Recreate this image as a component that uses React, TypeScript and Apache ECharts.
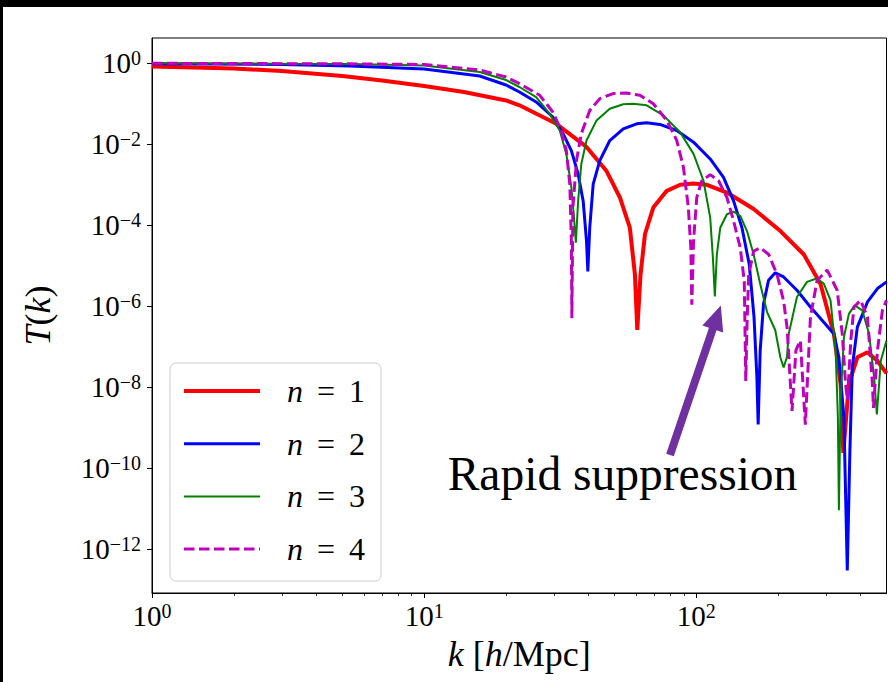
import React, { useEffect, useRef } from "react";
import * as echarts from "echarts";

// ---- data (k in h/Mpc, T(k)) ----
const seriesNames = ["n = 1", "n = 2", "n = 3", "n = 4"];
const seriesNumbers = ["1", "2", "3", "4"];

const kN1 = [1, 2, 3, 5, 7, 10, 14, 20, 22.4, 30.6, 39.5, 46.7, 52.4, 57.0, 59.5, 60.7, 62.4, 64.8, 69.5, 77.9, 87.3, 97.7, 109.4, 129.6, 162.5, 203.8, 248.5, 286.1, 320.4, 339, 346.9, 363.7, 390.7, 425.6, 463, 500];
const tN1 = [0.834, 0.744, 0.645, 0.486, 0.376, 0.275, 0.196, 0.121, 0.0918, 0.0321, 8.6e-3, 2.23e-3, 4.86e-4, 8.7e-5, 6.1e-6, 2.6e-7, 6.1e-6, 6.1e-5, 2.74e-4, 7.1e-4, 1.0e-3, 1.08e-3, 1.0e-3, 6.45e-4, 2.53e-4, 7.2e-5, 1.9e-5, 3.55e-6, 2.07e-7, 1.21e-8, 2.4e-10, 1.21e-8, 5.5e-8, 7.3e-8, 4.5e-8, 2.2e-8];

const kN2 = [1, 3, 5.34, 10, 16, 20, 22.4, 25.8, 29.7, 32.4, 34.75, 36.8, 38.4, 39.5, 39.95, 40.6, 41.8, 44.2, 48.1, 53.9, 60.4, 65.7, 73.5, 84.8, 97.7, 112.5, 125.9, 137.1, 147.2, 156.5, 163, 167, 168.8, 171.7, 176.7, 184.3, 195, 209.4, 234.4, 262.7, 294.2, 320.4, 334.2, 348.7, 358.8, 366.8, 374.3, 390.7, 425.6, 463.1, 500];
const tN2 = [0.972, 0.934, 0.858, 0.723, 0.486, 0.291, 0.196, 0.111, 0.0472, 0.0182, 7.0e-3, 1.85e-3, 4.0e-4, 4.1e-5, 7.3e-6, 8.7e-5, 1.04e-3, 3.96e-3, 0.0124, 0.0241, 0.0321, 0.034, 0.031, 0.0219, 0.0113, 4.34e-3, 1.52e-3, 4.0e-4, 8.7e-5, 1.1e-5, 5.4e-7, 1.74e-8, 1.2e-9, 8.0e-8, 1.16e-6, 4.4e-6, 6.7e-6, 5.3e-6, 2.48e-6, 9.6e-7, 4.05e-7, 2.07e-7, 5.5e-8, 1.77e-9, 3.0e-13, 2.6e-10, 3.1e-8, 3.05e-7, 1.28e-6, 2.74e-6, 4.0e-6];

const kN3 = [1, 5.34, 10, 16, 20, 22.4, 25.8, 28.9, 31.5, 33.3, 34.75, 35.45, 36.1, 36.8, 37.8, 39.5, 43.0, 48.1, 53.9, 58.6, 65.7, 75.7, 87.2, 97.7, 106.3, 112.5, 115.1, 117.0, 119.0, 122.5, 129.6, 137.1, 145.1, 153.6, 162.5, 172.0, 182.0, 195.0, 203.9, 209.4, 215.4, 218.6, 234.4, 255.3, 276.4, 294.2, 311.4, 325.1, 331.4, 334.2, 339.0, 348.7, 363.7, 381.9, 407.5, 431.4, 450.4, 460.8, 476.5, 500];
const tN3 = [1.0, 0.961, 0.882, 0.61, 0.387, 0.26, 0.147, 0.057, 0.0219, 5.8e-3, 8.6e-4, 1.87e-4, 3.7e-5, 4.0e-4, 3.26e-3, 0.0124, 0.0389, 0.0757, 0.0972, 0.1006, 0.0918, 0.0517, 0.0199, 5.8e-3, 1.26e-3, 1.55e-4, 1.58e-5, 1.76e-6, 1.9e-5, 8.7e-5, 1.87e-4, 2.18e-4, 1.7e-4, 7.2e-5, 1.9e-5, 3.4e-6, 7.2e-7, 2.6e-7, 5.3e-8, 3.1e-8, 5.6e-8, 2.08e-7, 1.7e-6, 4.0e-6, 4.86e-6, 3.63e-6, 1.4e-6, 8.0e-8, 1.77e-9, 9.2e-12, 4.6e-9, 1.72e-7, 6.5e-7, 1.05e-6, 7.9e-7, 2.08e-7, 1.74e-8, 2.13e-9, 4.5e-8, 1.42e-7];

const kN4 = [1, 5.34, 10, 16, 20, 22.4, 26.6, 29.7, 31.9, 33.3, 34.3, 34.75, 34.9, 35.2, 36.3, 37.8, 40.6, 44.2, 49.5, 55.4, 62.1, 69.5, 77.9, 84.8, 89.7, 93.5, 95.5, 96.3, 97.7, 100.4, 104.8, 112.5, 120.7, 129.6, 137.1, 145.1, 150.1, 152.0, 153.6, 155.8, 162.5, 172.0, 184.6, 198.0, 209.5, 215.7, 224.8, 232.4, 241.3, 251.6, 262.7, 278.0, 302.8, 329.5, 344.0, 353.7, 359.2, 369.8, 379.7, 401.7, 425.6, 443.9, 447.7, 463.1, 482.9, 500];
const tN4 = [1.0, 0.972, 0.934, 0.683, 0.459, 0.315, 0.162, 0.0627, 0.0219, 7.0e-3, 1.04e-3, 4.1e-5, 5.1e-7, 2.74e-4, 3.96e-3, 0.0182, 0.0687, 0.134, 0.179, 0.185, 0.162, 0.1006, 0.0389, 0.0124, 2.7e-3, 2.74e-4, 2.78e-5, 1.1e-6, 4.1e-5, 4.86e-4, 1.26e-3, 1.78e-3, 1.26e-3, 4.86e-4, 1.28e-4, 2.78e-5, 4.1e-6, 1.44e-8, 3.5e-7, 6.1e-6, 2.31e-5, 2.78e-5, 1.9e-5, 6.1e-6, 1.32e-6, 2.88e-7, 2.6e-9, 8.3e-8, 1.42e-7, 1.2e-9, 5.4e-7, 4.4e-6, 7.8e-6, 2.48e-6, 2.07e-7, 1.19e-8, 4.9e-9, 1.47e-7, 9.6e-7, 1.4e-6, 5.4e-7, 1.19e-8, 3.1e-9, 8.0e-8, 7.9e-7, 1.4e-6];

// axis ranges and ticks (decade exponents)
const kMin = 1;
const kMax = 500;
const tMin = 10 ** -13.08;
const tMax = 10 ** 0.625;
const xTickExponents = [0, 1, 2];
const yTickExponents = [-12, -10, -8, -6, -4, -2, 0];
const xMinorTicks = [2, 3, 4, 5, 6, 7, 8, 9, 20, 30, 40, 50, 60, 70, 80, 90, 200, 300, 400];

const annotationText = "Rapid suppression";

// ---- helpers ----
const L = Math.log10;
const toPoints = (k: number[], t: number[]) => k.map((kv, i) => [L(kv), L(t[i])]);
const supLabel = (v: number) => {
  const n = Math.round(v);
  return `{b|10}{e|${n < 0 ? "\u2212" + -n : n}}`;
};

const SERIF = "'Liberation Serif', 'DejaVu Serif', serif";

const tickRich = {
  b: { fontFamily: SERIF, fontSize: 29, lineHeight: 30, color: "#000" },
  e: { fontFamily: SERIF, fontSize: 20, lineHeight: 14, verticalAlign: "top", color: "#000" },
};

const titleRich = {
  i: { fontFamily: SERIF, fontStyle: "italic", fontSize: 36, lineHeight: 42, color: "#000" },
  r: { fontFamily: SERIF, fontSize: 36, lineHeight: 42, color: "#000" },
};

const colors = ["#ff0000", "#0000ff", "#008000", "#bf00bf"];
const widths = [4, 3, 2, 3];

// arrow geometry (annotation, pixel space)
const arrowTail = [670, 455];
const arrowTip = [720.8, 305.4];
function arrowPoints() {
  const dx = arrowTip[0] - arrowTail[0];
  const dy = arrowTip[1] - arrowTail[1];
  const len = Math.hypot(dx, dy);
  const ux = dx / len, uy = dy / len;
  const nx = -uy, ny = ux;
  const headLen = 25, headHalf = 11, shaftHalf = 4;
  const bx = arrowTip[0] - headLen * ux, by = arrowTip[1] - headLen * uy;
  return [
    [arrowTail[0] - shaftHalf * nx, arrowTail[1] - shaftHalf * ny],
    [bx - shaftHalf * nx, by - shaftHalf * ny],
    [bx - headHalf * nx, by - headHalf * ny],
    [arrowTip[0], arrowTip[1]],
    [bx + headHalf * nx, by + headHalf * ny],
    [bx + shaftHalf * nx, by + shaftHalf * ny],
    [arrowTail[0] + shaftHalf * nx, arrowTail[1] + shaftHalf * ny],
  ];
}

export default function App() {
  const ref = useRef<HTMLDivElement>(null);
  useEffect(() => {
    const el = ref.current;
    if (!el) return;
    const chart = echarts.init(el, undefined, { renderer: "svg" });
    const ks = [kN1, kN2, kN3, kN4];
    const ts = [tN1, tN2, tN3, tN4];
    const grid = { left: 152, top: 38, width: 734.5, height: 555 };
    const option: any = {
      animation: false,
      backgroundColor: "#ffffff",
      textStyle: { fontFamily: SERIF },
      grid: { ...grid, show: true, borderColor: "#000", borderWidth: 1, backgroundColor: "transparent" },
      xAxis: [
        {
          type: "value",
          min: L(kMin),
          max: L(kMax),
          position: "bottom",
          axisLine: { show: true, onZero: false, lineStyle: { color: "#000", width: 1 } },
          axisTick: { show: true, length: 5, lineStyle: { color: "#000", width: 1 }, customValues: xTickExponents },
          axisLabel: { show: true, margin: 8, customValues: xTickExponents, formatter: supLabel, rich: tickRich },
          splitLine: { show: false },
          name: "{i|k}{r| [}{i|h}{r|/Mpc]}",
          nameLocation: "middle",
          nameGap: 40,
          nameTextStyle: { rich: titleRich, fontSize: 36 },
        },
        {
          type: "value",
          min: L(kMin),
          max: L(kMax),
          position: "bottom",
          axisLine: { show: false, onZero: false },
          axisTick: { show: true, length: 3, lineStyle: { color: "#000", width: 0.8 }, customValues: xMinorTicks.map(L) },
          axisLabel: { show: false },
          splitLine: { show: false },
        },
      ],
      yAxis: {
        type: "value",
        min: L(tMin),
        max: L(tMax),
        position: "left",
        axisLine: { show: true, onZero: false, lineStyle: { color: "#000", width: 1 } },
        axisTick: { show: true, length: 5, lineStyle: { color: "#000", width: 1 }, customValues: yTickExponents },
        axisLabel: { show: true, margin: 11, customValues: yTickExponents, formatter: supLabel, rich: tickRich },
        splitLine: { show: false },
        name: "{i|T}{r|(}{i|k}{r|)}",
        nameLocation: "middle",
        nameRotate: 90,
        nameGap: 93,
        nameTextStyle: { rich: titleRich, fontSize: 36 },
      },
      legend: {
        orient: "vertical",
        left: 170,
        top: 363,
        itemWidth: 76,
        itemHeight: 14,
        itemGap: 20.7,
        padding: [12, 16, 16, 12],
        backgroundColor: "rgba(255,255,255,0.8)",
        borderColor: "#cccccc",
        borderWidth: 1,
        borderRadius: 6,
        itemStyle: { opacity: 0, color: "transparent", borderWidth: 0 },
        lineStyle: { width: "inherit", color: "inherit", type: "inherit" },
        data: seriesNames,
        formatter: (name: string) => {
          const idx = seriesNames.indexOf(name);
          return `{n|n}{eq|=}{v|${seriesNumbers[idx]}}`;
        },
        textStyle: {
          rich: {
            n: { fontFamily: SERIF, fontStyle: "italic", fontSize: 32, lineHeight: 30, padding: [0, 0, 0, 22], color: "#000" },
            eq: { fontFamily: SERIF, fontSize: 32, lineHeight: 30, padding: [0, 14, 0, 14], color: "#000" },
            v: { fontFamily: SERIF, fontSize: 32, lineHeight: 30, color: "#000" },
          },
        },
      },
      series: seriesNames.map((name, i) => ({
        name,
        type: "line",
        xAxisIndex: 0,
        yAxisIndex: 0,
        symbol: "none",
        showSymbol: false,
        clip: true,
        data: toPoints(ks[i], ts[i]),
        lineStyle: {
          color: colors[i],
          width: widths[i],
          type: i === 3 ? [10.5, 4.5] : "solid",
          join: "bevel",
        },
        itemStyle: { color: colors[i] },
        emphasis: { disabled: true },
      })),
      graphic: [
        { type: "rect", silent: true, z: 100, shape: { x: 0, y: 0, width: 888, height: 7 }, style: { fill: "#000" } },
        { type: "rect", silent: true, z: 100, shape: { x: 0, y: 0, width: 3, height: 682 }, style: { fill: "#000" } },
        { type: "polygon", silent: true, z: 50, shape: { points: arrowPoints() }, style: { fill: "#7030a0" } },
        {
          type: "text",
          silent: true,
          z: 50,
          x: 622.5,
          y: 474,
          style: {
            text: annotationText,
            fontSize: 47.5,
            fontFamily: SERIF,
            fill: "#000",
            align: "center",
            verticalAlign: "middle",
            textAlign: "center",
            textVerticalAlign: "middle",
          },
        },
      ],
    };
    chart.setOption(option);
    return () => chart.dispose();
  }, []);
  return (
    <div
      ref={ref}
      style={{ position: "absolute", left: 0, top: 0, width: 888, height: 682, background: "#fff" }}
    />
  );
}
